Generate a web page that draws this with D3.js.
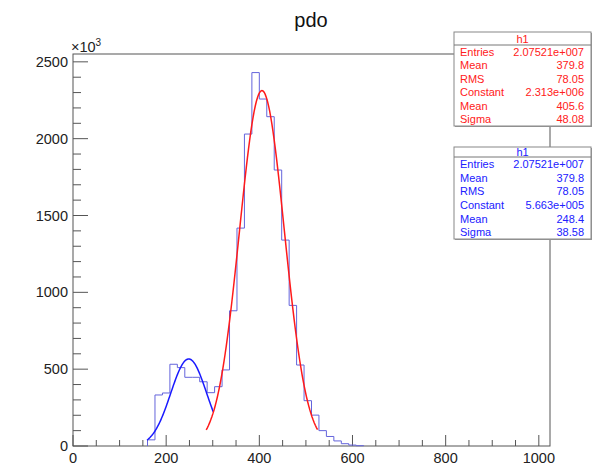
<!DOCTYPE html>
<html>
<head>
<meta charset="UTF-8">
<title>pdo</title>
<script src="https://cdn.jsdelivr.net/npm/d3@7"></script>
<style type="text/css">
	body{ margin:0; background:#fff; }
	svg text{ font-family:"Liberation Sans", Arial, sans-serif; }
</style>
</head>
<body>
<script>
// histogram h1, values in units of 10^3
var binLow = [160, 176, 192, 208, 224, 240, 256, 272, 288, 304, 320, 336, 352, 368, 384,
              400, 416, 432, 448, 464, 480, 496, 512, 528, 544, 560, 576, 592, 608];
var counts = [40, 332, 345, 532, 510, 447, 447, 418, 347, 386, 495, 880, 1418, 2030, 2430,
              2258, 2143, 1796, 1340, 915, 527, 295, 201, 100, 62, 33, 15, 6, 2];
var binWidth = 16;

// gaus fits: constant (x10^3), mean, sigma, range
var redFit = [2313, 405.6, 48.08];
var redRange = [286, 525];
var blueFit = [566.3, 248.4, 38.58];
var blueRange = [159, 301];

var xTicks = [0, 200, 400, 600, 800, 1000];
var yTicks = [0, 500, 1000, 1500, 2000, 2500];

var statLabels = ["Entries", "Mean", "RMS", "Constant", "Mean", "Sigma"];
var redStats = ["2.07521e+007", "379.8", "78.05", "2.313e+006", "405.6", "48.08"];
var blueStats = ["2.07521e+007", "379.8", "78.05", "5.663e+005", "248.4", "38.58"];

var width = 599, height = 468;
var svg = d3.select("body").append("svg")
	.attr("width", width)
	.attr("height", height);

var x = d3.scaleLinear().domain([0, 1024]).range([73, 550]);
var y = d3.scaleLinear().domain([0, 2551]).range([446, 54]);

var axisColor = "#555";

// title
svg.append("text")
	.attr("x", 311).attr("y", 27)
	.attr("text-anchor", "middle")
	.attr("font-size", "20px")
	.attr("fill", "#111")
	.text("pdo");

// frame
svg.append("rect")
	.attr("x", x(0)).attr("y", y(2551))
	.attr("width", x(1024) - x(0))
	.attr("height", y(0) - y(2551))
	.attr("fill", "none")
	.attr("stroke", axisColor)
	.attr("stroke-width", 1);

// x ticks (inside frame)
var xMinor = d3.range(0, 1024, 50);
svg.append("g").selectAll("line")
	.data(xMinor)
	.enter().append("line")
	.attr("x1", function(d){ return x(d); })
	.attr("x2", function(d){ return x(d); })
	.attr("y1", y(0))
	.attr("y2", function(d){ return y(0) - (d % 200 == 0 ? 11 : 6); })
	.attr("stroke", axisColor);

svg.append("g").selectAll("text")
	.data(xTicks)
	.enter().append("text")
	.attr("x", function(d){ return x(d); })
	.attr("y", 463)
	.attr("text-anchor", "middle")
	.attr("font-size", "14.5px")
	.attr("fill", "#222")
	.text(function(d){ return d; });

// y ticks
var yMinor = d3.range(0, 2551, 100);
svg.append("g").selectAll("line")
	.data(yMinor)
	.enter().append("line")
	.attr("x1", x(0))
	.attr("x2", function(d){ return x(0) + (d % 500 == 0 ? 15 : 8); })
	.attr("y1", function(d){ return y(d); })
	.attr("y2", function(d){ return y(d); })
	.attr("stroke", axisColor);

svg.append("g").selectAll("text")
	.data(yTicks)
	.enter().append("text")
	.attr("x", 68)
	.attr("y", function(d){ return y(d) + 5; })
	.attr("text-anchor", "end")
	.attr("font-size", "14.5px")
	.attr("fill", "#222")
	.text(function(d){ return d; });

// x10^3 label
var expo = svg.append("text")
	.attr("x", 71).attr("y", 52)
	.attr("font-size", "14.5px")
	.attr("fill", "#222");
expo.append("tspan").text("\u00d710");
expo.append("tspan").attr("dy", -6).attr("font-size", "10px").text("3");

// histogram outline
var pts = [[binLow[0], 0]];
for (var i = 0; i < binLow.length; i++) {
	pts.push([binLow[i], counts[i]]);
	pts.push([binLow[i] + binWidth, counts[i]]);
}
pts.push([binLow[binLow.length - 1] + binWidth, 0]);

var line = d3.line()
	.x(function(d){ return x(d[0]); })
	.y(function(d){ return y(d[1]); });

svg.append("path")
	.attr("d", line(pts))
	.attr("fill", "none")
	.attr("stroke", "#6464dc")
	.attr("stroke-width", 1);

// fit curves
function gaus(p, range){
	return d3.range(0, 101).map(function(k){
		var xv = range[0] + (range[1] - range[0]) * k / 100;
		var t = (xv - p[1]) / p[2];
		return [xv, p[0] * Math.exp(-0.5 * t * t)];
	});
}

svg.append("path")
	.attr("d", line(gaus(blueFit, blueRange)))
	.attr("fill", "none")
	.attr("stroke", "#1a1aff")
	.attr("stroke-width", 1.5);

svg.append("path")
	.attr("d", line(gaus(redFit, redRange)))
	.attr("fill", "none")
	.attr("stroke", "#ff1a1a")
	.attr("stroke-width", 1.5);

// stats boxes
function statBox(top, headH, bottom, color, values){
	var g = svg.append("g");
	var left = 454, right = 591;
	g.append("rect")
		.attr("x", left + 1).attr("y", top + 1)
		.attr("width", right - left).attr("height", bottom - top)
		.attr("fill", "#999");
	g.append("rect")
		.attr("x", left).attr("y", top)
		.attr("width", right - left).attr("height", bottom - top)
		.attr("fill", "#fff")
		.attr("stroke", "#888");
	g.append("line")
		.attr("x1", left).attr("x2", right)
		.attr("y1", top + headH).attr("y2", top + headH)
		.attr("stroke", "#777");
	g.append("text")
		.attr("x", (left + right) / 2).attr("y", top + headH / 2 + 4)
		.attr("text-anchor", "middle")
		.attr("font-size", "11px")
		.attr("fill", color)
		.text("h1");
	var rowH = (bottom - top - headH) / statLabels.length;
	g.selectAll(".lab")
		.data(statLabels)
		.enter().append("text")
		.attr("x", left + 6)
		.attr("y", function(d, i){ return top + headH + rowH * (i + 0.5) + 4; })
		.attr("font-size", "11px")
		.attr("fill", color)
		.text(function(d){ return d; });
	g.selectAll(".val")
		.data(values)
		.enter().append("text")
		.attr("x", right - 7)
		.attr("y", function(d, i){ return top + headH + rowH * (i + 0.5) + 4; })
		.attr("text-anchor", "end")
		.attr("font-size", "11px")
		.attr("fill", color)
		.text(function(d){ return d; });
}

statBox(32, 13, 126, "#ff2020", redStats);
statBox(147, 10, 239, "#2020ff", blueStats);
</script>
</body>
</html>
